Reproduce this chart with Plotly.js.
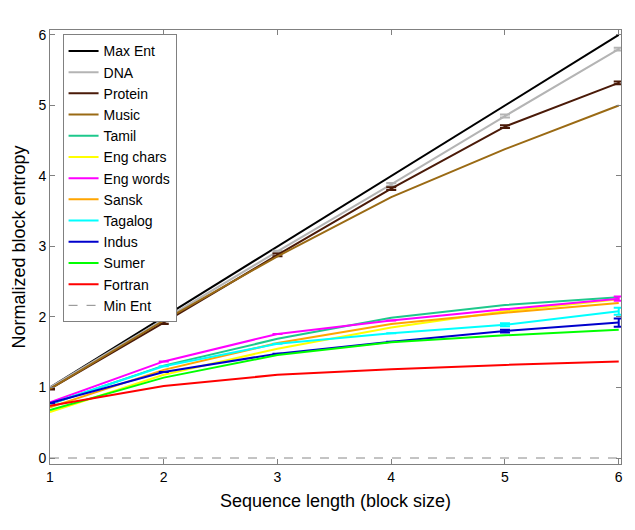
<!DOCTYPE html>
<html>
<head>
<meta charset="utf-8">
<script src="https://cdn.plot.ly/plotly-3.0.1.min.js"></script>
<style>
  body { margin: 0; background: white; }
  #chart { width: 635px; height: 530px; }
</style>
</head>
<body>
<div id="chart"></div>
<script>
// Block sizes
const blockSize = [1, 2, 3, 4, 5, 6];

// Normalized block entropy per source
const maxEnt   = [1.00, 2.00, 3.00, 4.00, 5.00, 6.00];
const dna      = [1.00, 1.97, 2.93, 3.88, 4.85, 5.80];
const protein  = [0.98, 1.92, 2.88, 3.82, 4.70, 5.32];
const music    = [0.98, 1.95, 2.86, 3.70, 4.38, 5.00];
const tamil    = [0.76, 1.31, 1.69, 1.99, 2.17, 2.28];
const engChars = [0.65, 1.18, 1.55, 1.85, 2.08, 2.25];
const engWords = [0.79, 1.37, 1.76, 1.95, 2.11, 2.26];
const sansk    = [0.72, 1.25, 1.63, 1.90, 2.06, 2.20];
const tagalog  = [0.77, 1.30, 1.62, 1.77, 1.89, 2.08];
const indus    = [0.78, 1.22, 1.48, 1.65, 1.80, 1.92];
const sumer    = [0.68, 1.14, 1.46, 1.64, 1.74, 1.82];
const fortran  = [0.74, 1.02, 1.18, 1.26, 1.32, 1.37];
const minEnt   = [0, 0, 0, 0, 0, 0];

// Error bar half-widths (small, only some visible)
const dnaErr     = [0, 0, 0.01, 0.02, 0.02, 0.02];
const proteinErr = [0.01, 0.02, 0.02, 0.02, 0.02, 0.02];
const tagalogErr = [0, 0, 0, 0, 0.02, 0.05];
const indusErr   = [0, 0, 0, 0, 0.02, 0.06];
const engWordsErr = [0, 0, 0, 0, 0, 0.03];

function series(name, y, color, err) {
    const t = {
        x: blockSize, y: y, name: name, type: 'scatter', mode: 'lines',
        line: { color: color, width: 2 }
    };
    if (err) {
        t.error_y = { type: 'data', array: err, visible: true, color: color, thickness: 2, width: 5 };
    }
    return t;
}

const traces = [
    series('Max Ent', maxEnt, '#000000'),
    series('DNA', dna, '#b4b4b4', dnaErr),
    series('Protein', protein, '#4a1a08', proteinErr),
    series('Music', music, '#9a6a14'),
    series('Tamil', tamil, '#1ec88c'),
    series('Eng chars', engChars, '#ffff00'),
    series('Eng words', engWords, '#ff00ff', engWordsErr),
    series('Sansk', sansk, '#ffa500'),
    series('Tagalog', tagalog, '#00ffff', tagalogErr),
    series('Indus', indus, '#0000cc', indusErr),
    series('Sumer', sumer, '#00ff00'),
    series('Fortran', fortran, '#ff0000'),
    { x: blockSize, y: minEnt, name: 'Min Ent', type: 'scatter', mode: 'lines',
      line: { color: '#888888', width: 1, dash: 'dash' } }
];

const axisStyle = {
    showgrid: false, zeroline: false,
    showline: true, linecolor: '#808080', linewidth: 1, mirror: 'ticks',
    ticks: 'inside', ticklen: 5, tickcolor: '#808080',
    tickfont: { family: 'Liberation Sans, Arial, sans-serif', size: 14, color: '#000' }
};

const layout = {
    width: 635, height: 530,
    paper_bgcolor: 'white', plot_bgcolor: 'white',
    margin: { l: 50, r: 14, t: 30, b: 66 },
    font: { family: 'Liberation Sans, Arial, sans-serif', color: '#000' },
    xaxis: Object.assign({}, axisStyle, {
        range: [1, 6.02], tickvals: blockSize,
        title: { text: 'Sequence length (block size)', font: { size: 18 }, standoff: 10 }
    }),
    yaxis: Object.assign({}, axisStyle, {
        range: [-0.085, 6.07], tickvals: [0, 1, 2, 3, 4, 5, 6],
        title: { text: 'Normalized block entropy', font: { size: 18 }, standoff: 8 }
    }),
    legend: {
        x: 0.022, y: 0.99, xanchor: 'left', yanchor: 'top',
        bgcolor: 'white', bordercolor: '#808080', borderwidth: 1,
        font: { size: 14 }, tracegroupgap: 0
    },
    showlegend: true
};

Plotly.newPlot('chart', traces, layout, { displayModeBar: false, staticPlot: true });
</script>
</body>
</html>
